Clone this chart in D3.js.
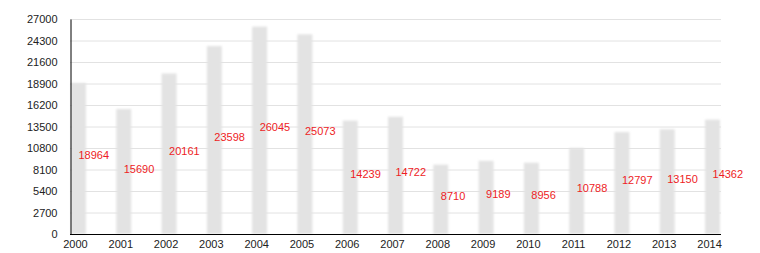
<!DOCTYPE html>
<html>
<head>
<meta charset="utf-8">
<script src="https://cdn.jsdelivr.net/npm/d3@7"></script>
<style>
  body { margin: 0; background: #fff; }
  text { font-family: "Liberation Sans", Arial, sans-serif; }
</style>
</head>
<body>
<svg width="760" height="253"></svg>
<script>
const years = ['2000','2001','2002','2003','2004','2005','2006','2007','2008','2009','2010','2011','2012','2013','2014'];
const population = [18964, 15690, 20161, 23598, 26045, 25073, 14239, 14722, 8710, 9189, 8956, 10788, 12797, 13150, 14362];
const yTicks = [0, 2700, 5400, 8100, 10800, 13500, 16200, 18900, 21600, 24300, 27000];

const svg = d3.select('svg');

// plot area
const plotLeft = 70, plotRight = 721, plotTop = 19, plotBottom = 234;

const xScale = d3.scaleBand()
    .domain(years)
    .range([71, 720])
    .paddingInner(0.67)
    .paddingOuter(0);

const yScale = d3.scaleLinear()
    .domain([0, 27000])
    .range([plotBottom, plotTop]);

// soft edges on the bars
const defs = svg.append('defs');
defs.append('filter')
    .attr('id', 'soft')
    .attr('x', '-20%').attr('width', '140%')
    .append('feGaussianBlur')
    .attr('stdDeviation', 0.8);

// gridlines
svg.append('g')
    .selectAll('line').data(yTicks.filter(d => d > 0))
    .enter().append('line')
        .attr('x1', plotLeft)
        .attr('x2', plotRight)
        .attr('y1', d => yScale(d) + 0.5)
        .attr('y2', d => yScale(d) + 0.5)
        .attr('stroke', '#e2e2e2');

// bars
svg.append('g')
    .selectAll('rect').data(population)
    .enter().append('rect')
        .attr('x', (d, i) => xScale(years[i]))
        .attr('y', d => yScale(d))
        .attr('width', xScale.bandwidth())
        .attr('height', d => plotBottom - yScale(d))
        .attr('fill', '#e3e3e3')
        .attr('filter', 'url(#soft)');

// y axis
const yAxis = d3.axisLeft(yScale)
    .tickValues(yTicks)
    .tickSize(0)
    .tickPadding(13)
    .tickFormat(d3.format('d'));

const yAxisG = svg.append('g')
    .attr('transform', `translate(${plotLeft + 0.5},0)`)
    .call(yAxis);
yAxisG.select('.domain').attr('stroke', '#000');
yAxisG.selectAll('text')
    .attr('font-size', 11)
    .attr('fill', '#222')
    .attr('font-family', '"Liberation Sans", Arial, sans-serif');

// x axis
const xAxis = d3.axisBottom(xScale)
    .tickSize(0)
    .tickPadding(6);

const xAxisG = svg.append('g')
    .attr('transform', `translate(0,${plotBottom + 0.5})`)
    .call(xAxis);
xAxisG.select('.domain')
    .attr('d', `M${plotLeft},0H${plotRight}`)
    .attr('stroke', '#000');
xAxisG.selectAll('text')
    .attr('x', -3)
    .attr('font-size', 11)
    .attr('fill', '#222')
    .attr('font-family', '"Liberation Sans", Arial, sans-serif');

// value labels, halfway up each bar
svg.append('g')
    .selectAll('text').data(population)
    .enter().append('text')
        .attr('x', (d, i) => xScale(years[i]) + xScale.bandwidth() / 2)
        .attr('y', d => yScale(d / 2) + 1)
        .attr('font-size', 11)
        .attr('fill', '#ee1c25')
        .text(d => d);
</script>
</body>
</html>
